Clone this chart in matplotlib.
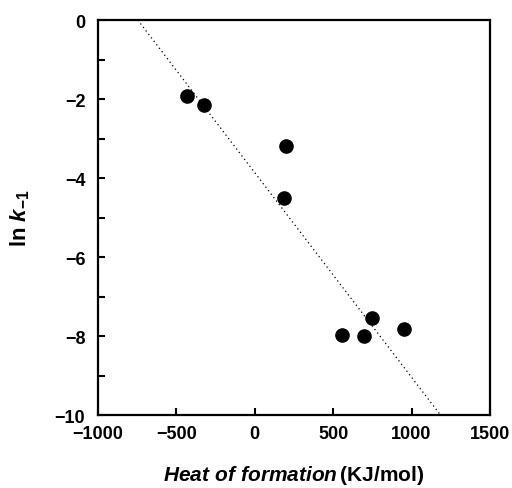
import numpy as np
import matplotlib.pyplot as plt
from matplotlib.ticker import MultipleLocator

plt.rcParams['font.family'] = ['Liberation Sans', 'DejaVu Sans']
plt.rcParams['mathtext.fontset'] = 'custom'
plt.rcParams['mathtext.rm'] = 'Liberation Sans:bold'
plt.rcParams['mathtext.it'] = 'Liberation Sans:bold:italic'
plt.rcParams['mathtext.bf'] = 'Liberation Sans:bold'

## data
heat = [-430, -320, 200, 190, 555, 695, 745, 955]
ln_k = [-1.92, -2.15, -3.2, -4.5, -7.97, -8.0, -7.53, -7.83]

fit_x = [-745, 1185]
fit_y = [0, -10]

fig = plt.figure(figsize=(5.12, 4.89), dpi=100)
ax = fig.add_axes([0.191, 0.149, 0.766, 0.808])

ax.plot(fit_x, fit_y, ls=(0, (1, 2.5)), color='black', lw=0.9)
ax.plot(heat, ln_k, 'o', color='black', ms=9.5, ls='none')

ax.set_xlim(-1000, 1500)
ax.set_ylim(-10, 0)
ax.xaxis.set_major_locator(MultipleLocator(500))
ax.yaxis.set_major_locator(MultipleLocator(2))
ax.yaxis.set_minor_locator(MultipleLocator(1))

for s in ax.spines.values():
    s.set_linewidth(1.6)

ax.tick_params(which='both', direction='in', top=False, right=False,
               width=1.5, labelsize=13)
ax.tick_params(which='major', length=5)
ax.tick_params(which='minor', length=5)
ax.tick_params(axis='x', pad=7)
ax.tick_params(axis='y', pad=9)
for lab in ax.get_xticklabels() + ax.get_yticklabels():
    lab.set_fontweight('bold')

ax.set_xlabel(r'$Heat\ of\ formation\,$(KJ/mol)', fontsize=15, fontweight='bold', labelpad=15)
ax.set_ylabel(r'ln $k_{\mathrm{-1}}$', fontsize=16, fontweight='bold', labelpad=16)

fig.savefig('out.png', dpi=100)
